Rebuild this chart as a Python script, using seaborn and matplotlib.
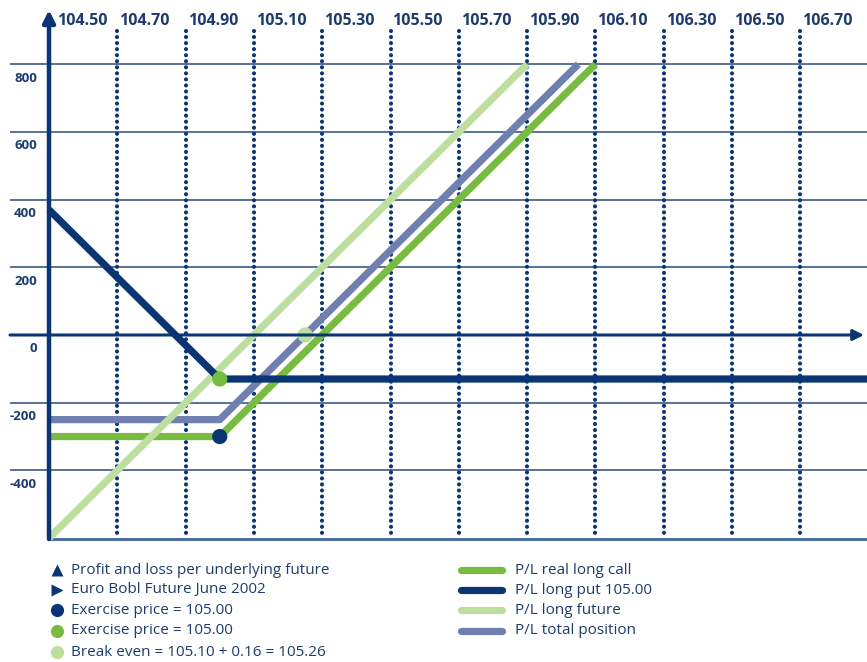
import numpy as np
import pandas as pd
import matplotlib
matplotlib.use('Agg')
import matplotlib.pyplot as plt
import seaborn as sns

# data
price_ticks = ['104.50', '104.70', '104.90', '105.10', '105.30', '105.50',
               '105.70', '105.90', '106.10', '106.30', '106.50', '106.70']
grid_prices = [104.70, 104.90, 105.10, 105.30, 105.50, 105.70,
               105.90, 106.10, 106.30, 106.50, 106.70, 106.90]
pl_ticks = [800, 600, 400, 200, 0, -200, -400]

call_x = [104.50, 105.00, 106.10]
call_pl = [-300, -300, 800]
put_x = [104.50, 105.00, 106.90]
put_pl = [370, -130, -130]
future_x = [104.50, 105.90]
future_pl = [-600, 800]
total_x = [104.50, 105.00, 106.05]
total_pl = [-250, -250, 800]

dot_x = [105.00, 105.00, 105.25]
dot_pl = [-300, -130, 0]

left_legend = ['Profit and loss per underlying future',
               'Euro Bobl Future June 2002',
               'Exercise price = 105.00',
               'Exercise price = 105.00',
               'Break even = 105.10 + 0.16 = 105.26']
right_legend = ['P/L real long call', 'P/L long put 105.00',
                'P/L long future', 'P/L total position']

NAVY = '#0b3572'
GREEN = '#77bc40'
LIGHT = '#bcdf9f'
LAV = '#6e7fb0'
TXT = '#1d3b6f'

sns.set_theme(style='white')
plt.rcParams['font.family'] = ['Open Sans', 'DejaVu Sans']

W, H = 867, 662
XS, YS = 341.5, 0.3385   # pixels per unit
X0PX, Y0PX = 49, 335     # pixel of (104.50, 0)

fig = plt.figure(figsize=(W / 100, H / 100), dpi=100)
ax = fig.add_axes([0, 0, 1, 1])
x0 = 104.50 - X0PX / XS
ax.set_xlim(x0, x0 + W / XS)
ax.set_ylim(-(H - Y0PX) / YS, Y0PX / YS)
ax.axis('off')


def dx(p):
    return x0 + p / XS


def dy(p):
    return (Y0PX - p) / YS


xmax = dx(W)
ybot = dy(539)

# grid
for v in pl_ticks:
    if v != 0:
        ax.hlines(v, dx(10), xmax, color='#2a4a7e', lw=1.1, zorder=1)
ax.hlines(ybot, 104.50, xmax, color='#4d6f9e', lw=2.2, zorder=1)
for g in grid_prices:
    ax.plot([g, g], [dy(31), dy(533)], color=NAVY, lw=3.0,
            linestyle=(0, (0.001, 1.45)), dash_capstyle='round', zorder=2)

# axes with arrows
ax.annotate('', xy=(dx(864), 0), xytext=(dx(10), 0),
            arrowprops=dict(arrowstyle='-|>', color=NAVY, lw=2.2,
                            mutation_scale=16, shrinkA=0, shrinkB=0), zorder=6)
ax.annotate('', xy=(104.50, dy(10)), xytext=(104.50, ybot),
            arrowprops=dict(arrowstyle='-|>', color=NAVY, lw=3.2,
                            mutation_scale=18, shrinkA=0, shrinkB=0), zorder=6)

# tick labels
for i, t in enumerate(price_ticks):
    off = 8 if i == 0 else 2
    ax.text(float(t) + off / XS, dy(21), t, ha='left', va='center',
            fontsize=11.5, fontweight='bold', color=TXT)
for v in pl_ticks:
    ax.text(dx(37), v - 14 / YS, str(v), ha='right', va='center',
            fontsize=9.5, fontweight='bold', color=TXT)

# P/L lines
series = [(total_x, total_pl, LAV), (call_x, call_pl, GREEN),
          (future_x, future_pl, LIGHT), (put_x, put_pl, NAVY)]
for k, (xs, ys, c) in enumerate(series):
    df = pd.DataFrame({'price': xs, 'pl': ys})
    sns.lineplot(data=df, x='price', y='pl', ax=ax, color=c, lw=5.2,
                 estimator=None, sort=False, solid_capstyle='butt',
                 zorder=3 + k * 0.1)

dots = pd.DataFrame({'price': dot_x, 'pl': dot_pl,
                     'kind': ['navy', 'green', 'light']})
sns.scatterplot(data=dots, x='price', y='pl', hue='kind',
                palette={'navy': NAVY, 'green': GREEN, 'light': LIGHT},
                s=120, linewidth=0, legend=False, ax=ax, zorder=5)
ax.set_xlabel('')
ax.set_ylabel('')

# legend block
rows = [570, 590, 610, 631, 652]
marks = [('^', NAVY), ('>', NAVY), ('o', NAVY), ('o', GREEN), ('o', LIGHT)]
for r, (m, c), lab in zip(rows, marks, left_legend):
    ax.plot([dx(57)], [dy(r)], marker=m, color=c, ms=9.5 if m == 'o' else 8.5,
            mec='none', clip_on=False)
    ax.text(dx(71), dy(r), lab, ha='left', va='center', fontsize=11, color=TXT)

for r, (_, _, c), lab in zip(rows, [series[1], series[3], series[2], series[0]], right_legend):
    ax.plot([dx(461), dx(502)], [dy(r), dy(r)], color=c, lw=5.2,
            solid_capstyle='round')
    ax.text(dx(515), dy(r), lab, ha='left', va='center', fontsize=11, color=TXT)

fig.savefig('out.png', dpi=100)
